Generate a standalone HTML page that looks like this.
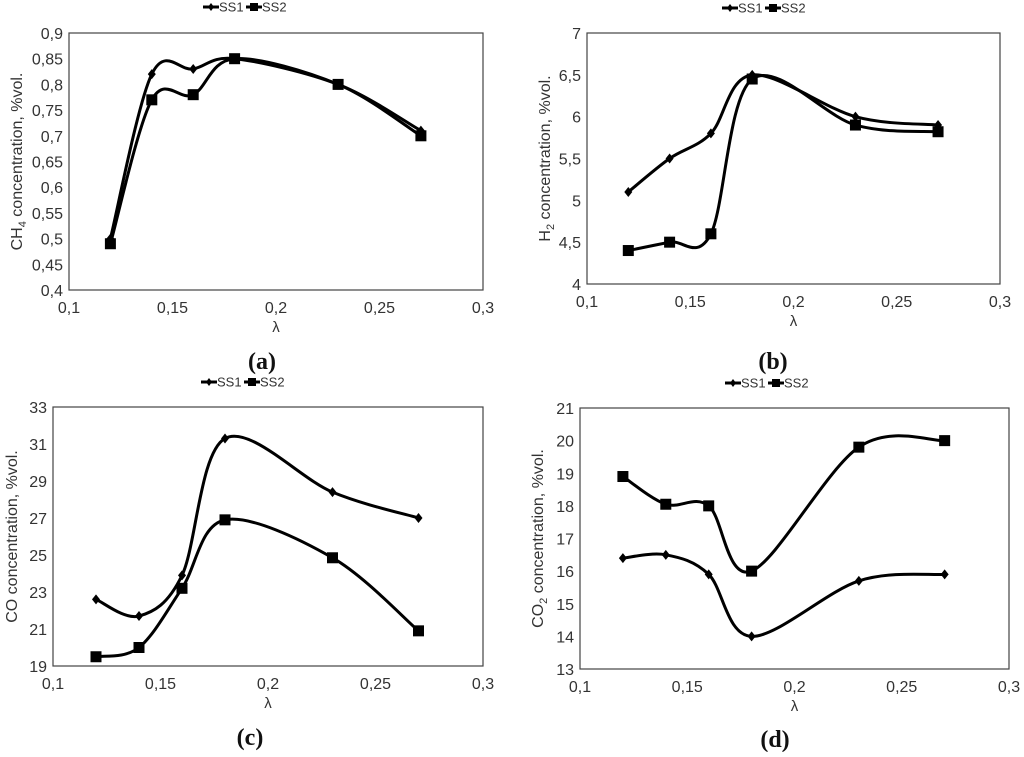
<!DOCTYPE html>
<html><head><meta charset="utf-8"><style>
html,body{margin:0;padding:0;background:#fff;}
svg text{font-family:"Liberation Sans",sans-serif;}
</style></head><body>
<svg id="fig" width="1024" height="752" xmlns="http://www.w3.org/2000/svg"></svg>
<script>
const lambdaValues = [0.12, 0.14, 0.16, 0.18, 0.23, 0.27];
const xTickLabels = ["0,1","0,15","0,2","0,25","0,3"];
const xTicks = [0.1,0.15,0.2,0.25,0.3];
const ch4SS1 = [0.50,0.82,0.83,0.85,0.80,0.71];
const ch4SS2 = [0.49,0.77,0.78,0.85,0.80,0.70];
const ch4Ticks = [0.4,0.45,0.5,0.55,0.6,0.65,0.7,0.75,0.8,0.85,0.9];
const ch4TickLabels = ["0,4","0,45","0,5","0,55","0,6","0,65","0,7","0,75","0,8","0,85","0,9"];
const h2SS1 = [5.1,5.5,5.8,6.5,6.0,5.9];
const h2SS2 = [4.4,4.5,4.6,6.45,5.9,5.82];
const h2Ticks = [4,4.5,5,5.5,6,6.5,7];
const h2TickLabels = ["4","4,5","5","5,5","6","6,5","7"];
const coSS1 = [22.6,21.7,23.9,31.3,28.4,27.0];
const coSS2 = [19.5,20.0,23.2,26.9,24.85,20.9];
const coTicks = [19,21,23,25,27,29,31,33];
const coTickLabels = ["19","21","23","25","27","29","31","33"];
const co2SS1 = [16.4,16.5,15.9,14.0,15.7,15.9];
const co2SS2 = [18.9,18.05,18.0,16.0,19.8,20.0];
const co2Ticks = [13,14,15,16,17,18,19,20,21];
const co2TickLabels = ["13","14","15","16","17","18","19","20","21"];

const NS="http://www.w3.org/2000/svg";
const svg=document.getElementById('fig');
function mk(tag,attrs,parent){const e=document.createElementNS(NS,tag);for(const k in attrs)e.setAttribute(k,attrs[k]);(parent||svg).appendChild(e);return e;}

function smoothPath(pts){
  let d=`M${pts[0][0]},${pts[0][1]}`;
  for(let i=0;i<pts.length-1;i++){
    const p0=pts[i-1]||pts[i],p1=pts[i],p2=pts[i+1],p3=pts[i+2]||p2;
    const t=1/6;
    const c1=[p1[0]+(p2[0]-p0[0])*t,p1[1]+(p2[1]-p0[1])*t];
    const c2=[p2[0]-(p3[0]-p1[0])*t,p2[1]-(p3[1]-p1[1])*t];
    d+=` C${c1[0]},${c1[1]} ${c2[0]},${c2[1]} ${p2[0]},${p2[1]}`;
  }
  return d;
}

function panel(o){
  const g=mk('g',{});
  
  
  const xs=v=>o.x0+(v-0.1)/(0.2)*(o.x1-o.x0);
  const ys=v=>o.y1-(v-o.ymin)/(o.ymax-o.ymin)*(o.y1-o.y0);
  const fr=mk('rect',{x:o.x0,y:o.y0,width:o.x1-o.x0,height:o.y1-o.y0,fill:'none',stroke:'#444','stroke-width':1.2},g);
  
  
  o.yt.forEach((v,i)=>{const t=mk('text',{x:o.x0-6,y:ys(v)+6,'text-anchor':'end','font-size':16,fill:'#333'},g);t.textContent=o.ytl[i];
    });
  xTicks.forEach((v,i)=>{const t=mk('text',{x:xs(v),y:o.y1+23,'text-anchor':'middle','font-size':16,fill:'#333'},g);t.textContent=xTickLabels[i];
    });
  const xl=mk('text',{x:(o.x0+o.x1)/2,y:o.y1+42,'text-anchor':'middle','font-size':15,fill:'#333'},g);xl.textContent='λ';
  
  const yl=mk('text',{x:0,y:0,'text-anchor':'middle','font-size':16,fill:'#333',transform:`translate(${o.yx},${(o.y0+o.y1)/2}) rotate(-90)`},g);
  yl.innerHTML=o.ytitle;
  
  [[o.s1,'ss1'],[o.s2,'ss2']].forEach(([s,n])=>{
    const pts=lambdaValues.map((x,i)=>[xs(x),ys(s[i])]);
    const p=mk('path',{d:smoothPath(pts),fill:'none',stroke:'#000','stroke-width':3},g);
    
    pts.forEach(q=>{
      let m;
      if(n==='ss1') m=mk('path',{d:`M${q[0]},${q[1]-5} L${q[0]+4},${q[1]} L${q[0]},${q[1]+5} L${q[0]-4},${q[1]} Z`,fill:'#000'},g);
      else m=mk('rect',{x:q[0]-5.5,y:q[1]-5.5,width:11,height:11,fill:'#000'},g);
      
    });
  });
  const lx=o.lx, ly=o.ly;
  const lg=mk('g',{},g);
  mk('line',{x1:lx,y1:ly,x2:lx+16,y2:ly,stroke:'#000','stroke-width':3},lg);
  mk('path',{d:`M${lx+8},${ly-4} L${lx+11},${ly} L${lx+8},${ly+4} L${lx+5},${ly} Z`,fill:'#000'},lg);
  let t=mk('text',{x:lx+16,y:ly+4.5,'font-size':13,fill:'#333'},lg);t.textContent='SS1';
  mk('line',{x1:lx+43,y1:ly,x2:lx+59,y2:ly,stroke:'#000','stroke-width':3},lg);
  mk('rect',{x:lx+47,y:ly-4,width:8,height:8,fill:'#000'},lg);
  t=mk('text',{x:lx+59,y:ly+4.5,'font-size':13,fill:'#333'},lg);t.textContent='SS2';
  const cap=mk('text',{x:o.cx,y:o.cy,'text-anchor':'middle','font-size':24,'font-weight':'bold',fill:'#111',style:'font-family:"Liberation Serif",serif'},g);
  cap.textContent=o.cap;
}

panel({name:'chart-ch4',x0:69,x1:483,y0:33,y1:290,ymin:0.4,ymax:0.9,yt:ch4Ticks,ytl:ch4TickLabels,s1:ch4SS1,s2:ch4SS2,
  yx:22,ytitle:'CH<tspan font-size="11" dy="4">4</tspan><tspan dy="-4"> concentration, %vol.</tspan>',lx:203,ly:7,cx:262,cy:369,cap:'(a)'});
panel({name:'chart-h2',x0:587,x1:1000,y0:33,y1:284,ymin:4,ymax:7,yt:h2Ticks,ytl:h2TickLabels,s1:h2SS1,s2:h2SS2,
  yx:550,ytitle:'H<tspan font-size="11" dy="4">2</tspan><tspan dy="-4"> concentration, %vol.</tspan>',lx:722,ly:8,cx:773,cy:369,cap:'(b)'});
panel({name:'chart-co',x0:53,x1:483,y0:407,y1:666,ymin:19,ymax:33,yt:coTicks,ytl:coTickLabels,s1:coSS1,s2:coSS2,
  yx:17,ytitle:'CO concentration, %vol.',lx:201,ly:382,cx:250,cy:745,cap:'(c)'});
panel({name:'chart-co2',x0:580,x1:1009,y0:408,y1:669,ymin:13,ymax:21,yt:co2Ticks,ytl:co2TickLabels,s1:co2SS1,s2:co2SS2,
  yx:543,ytitle:'CO<tspan font-size="11" dy="4">2</tspan><tspan dy="-4"> concentration, %vol.</tspan>',lx:725,ly:383,cx:775,cy:747,cap:'(d)'});
</script>
</body></html>
